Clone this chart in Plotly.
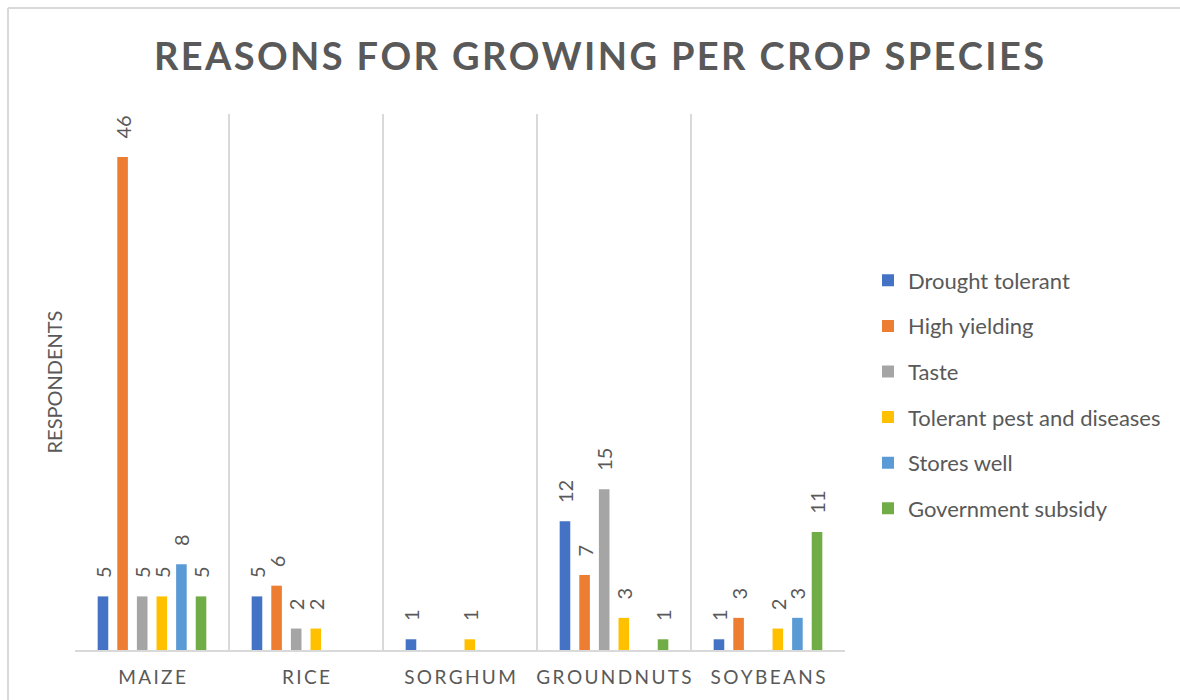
import plotly.graph_objects as go

# Crop species (x categories) and reasons (one bar series each)
crops = ["MAIZE", "RICE", "SORGHUM", "GROUNDNUTS", "SOYBEANS"]

drought_tolerant = [5, 5, 1, 12, 1]
high_yielding = [46, 6, None, 7, 3]
taste = [5, 2, None, 15, None]
tolerant_pest = [5, 2, 1, 3, 2]
stores_well = [8, None, None, None, 3]
government_subsidy = [5, None, None, 1, 11]

series = [
    ("Drought tolerant", drought_tolerant, "#4472C4"),
    ("High yielding", high_yielding, "#ED7D31"),
    ("Taste", taste, "#A5A5A5"),
    ("Tolerant pest and diseases", tolerant_pest, "#FFC000"),
    ("Stores well", stores_well, "#5B9BD5"),
    ("Government subsidy", government_subsidy, "#70AD47"),
]

TITLE = "REASONS FOR GROWING PER CROP SPECIES"

TEXT = "#595959"
GRID = "#D9D9D9"
FONT = "Lato"

# page geometry (px)
W, H = 1180, 700
L, R, T, B = 75, 335, 114, 50
PW, PH = W - L - R, H - T - B


def letter_spaced(s, gap):
    return gap.join(s)


crop_labels = [letter_spaced(c, "\u200a\u200a") for c in crops]

fig = go.Figure()
for i, (name, vals, color) in enumerate(series):
    labels = [None if v is None else "\u00a0\u00a0\u00a0" + str(v) for v in vals]
    fig.add_trace(go.Bar(
        name=name,
        x=crops,
        y=vals,
        marker=dict(color=color, line=dict(width=0)),
        text=labels,
        textposition="outside",
        textangle=-90,
        textfont=dict(family=FONT, size=20, color=TEXT),
        constraintext="none",
        cliponaxis=False,
        legendgroup=name,
    ))


def px_x(p):
    return (p - L) / PW


def px_y(p):
    return (H - B - p) / PH


fig.update_layout(
    width=W,
    height=H,
    margin=dict(l=L, r=R, t=T, b=B, autoexpand=False),
    paper_bgcolor="white",
    plot_bgcolor="white",
    barmode="group",
    bargap=0.236,
    bargroupgap=0.46,
    font=dict(family=FONT, color=TEXT),
    title=dict(
        text="<b>" + letter_spaced(TITLE, "\u200a") + "</b>",
        x=599 / W,
        xref="container",
        xanchor="center",
        y=1 - 57 / H,
        yref="container",
        yanchor="middle",
        font=dict(family=FONT, size=38, color=TEXT),
    ),
    xaxis=dict(
        type="category",
        categoryorder="array",
        categoryarray=crops,
        tickvals=crops,
        ticktext=crop_labels,
        tickson="boundaries",
        tickangle=0,
        showgrid=True,
        gridcolor=GRID,
        gridwidth=2,
        showline=True,
        linecolor=GRID,
        linewidth=2,
        ticks="",
        ticklabelstandoff=9,
        tickfont=dict(family=FONT, size=19, color=TEXT),
        range=[-0.5, 4.5],
        zeroline=False,
    ),
    yaxis=dict(
        range=[0, 50],
        showgrid=False,
        showline=False,
        zeroline=False,
        showticklabels=False,
        ticks="",
        title=dict(text="RESPONDENTS", font=dict(family=FONT, size=20, color=TEXT), standoff=6),
    ),
    legend=dict(
        x=px_x(868),
        xanchor="left",
        y=px_y(394.5),
        yanchor="middle",
        font=dict(family=FONT, size=22, color=TEXT),
        tracegroupgap=14,
        bgcolor="rgba(0,0,0,0)",
    ),
    shapes=[
        dict(type="line", xref="paper", yref="paper",
             x0=px_x(8), x1=px_x(W + 20), y0=px_y(8), y1=px_y(8),
             line=dict(color=GRID, width=2)),
        dict(type="line", xref="paper", yref="paper",
             x0=px_x(8), x1=px_x(8), y0=px_y(8), y1=px_y(H + 20),
             line=dict(color=GRID, width=2)),
    ],
)

fig.write_html("out.html")
